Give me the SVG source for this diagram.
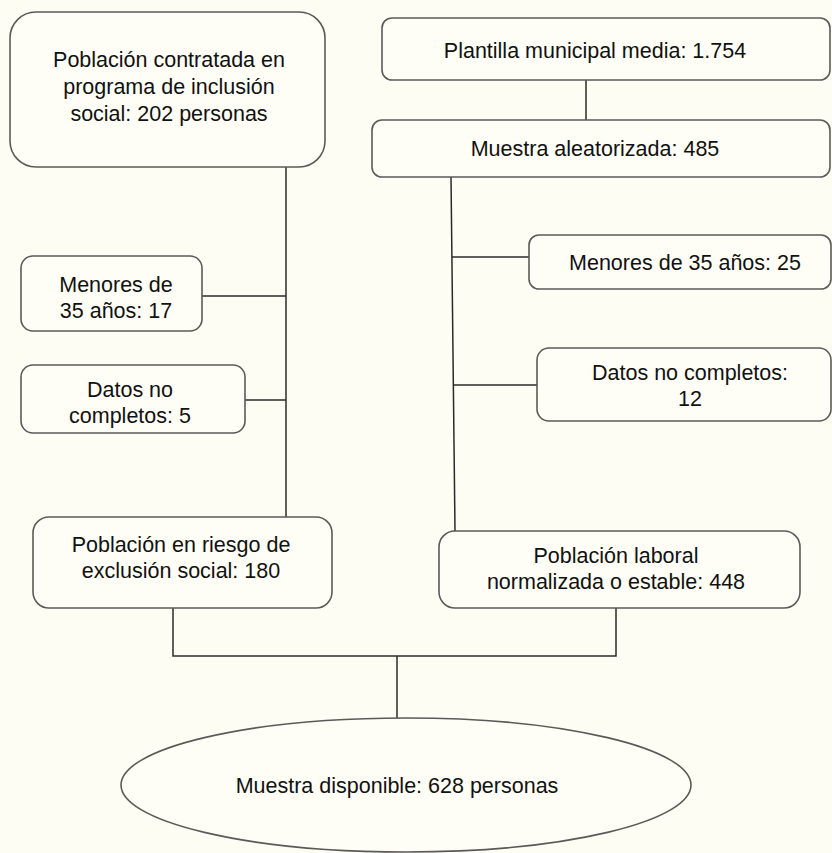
<svg xmlns="http://www.w3.org/2000/svg" width="832" height="853" viewBox="0 0 832 853">
<style>
.bg{fill:#fdfdf3}
.box{fill:#fefef6;stroke:#5a5a5a;stroke-width:1.6}
.ln{fill:none;stroke:#2a2a2a;stroke-width:1.5}
text{font-family:"Liberation Sans",Arial,sans-serif;font-size:21.5px;fill:#111;text-anchor:middle}
</style>
<rect class="bg" x="0" y="0" width="832" height="853"/>
<g id="connectors">
<path class="ln" d="M286,167 V517"/>
<path class="ln" d="M202,296 H286"/>
<path class="ln" d="M245,400 H286"/>
<path class="ln" d="M586,80 V120"/>
<path class="ln" d="M451,177 L455,531"/>
<path class="ln" d="M452,257 H529"/>
<path class="ln" d="M453,385 H537"/>
<path class="ln" d="M173,608 V656 H616 V608"/>
<path class="ln" d="M397,656 V718"/>
</g>
<g id="n1"><rect class="box" x="10" y="12" width="315" height="155" rx="26"/>
<text x="169" y="67">Población contratada en</text>
<text x="169" y="94">programa de inclusión</text>
<text x="169" y="121">social: 202 personas</text></g>
<g id="n2"><rect class="box" x="382" y="18" width="448" height="62" rx="10"/>
<text x="595" y="58">Plantilla municipal media: 1.754</text></g>
<g id="n3"><rect class="box" x="372" y="120" width="458" height="57" rx="10"/>
<text x="595" y="156">Muestra aleatorizada: 485</text></g>
<g id="n4"><rect class="box" x="21" y="256" width="181" height="75" rx="12"/>
<text x="116" y="292">Menores de</text>
<text x="116" y="318">35 años: 17</text></g>
<g id="n5"><rect class="box" x="21" y="365" width="224" height="68" rx="12"/>
<text x="130" y="397">Datos no</text>
<text x="130" y="423">completos: 5</text></g>
<g id="n6"><rect class="box" x="529" y="235" width="302" height="54" rx="10"/>
<text x="685" y="270">Menores de 35 años: 25</text></g>
<g id="n7"><rect class="box" x="537" y="348" width="294" height="73" rx="12"/>
<text x="690" y="380">Datos no completos:</text>
<text x="690" y="406">12</text></g>
<g id="n8"><rect class="box" x="33" y="517" width="299" height="91" rx="16"/>
<text x="181" y="552">Población en riesgo de</text>
<text x="181" y="578">exclusión social: 180</text></g>
<g id="n9"><rect class="box" x="439" y="531" width="361" height="77" rx="16"/>
<text x="616" y="563">Población laboral</text>
<text x="616" y="589">normalizada o estable: 448</text></g>
<g id="n10"><ellipse class="box" cx="406" cy="785" rx="285" ry="67"/>
<text x="397" y="793">Muestra disponible: 628 personas</text></g>
</svg>
